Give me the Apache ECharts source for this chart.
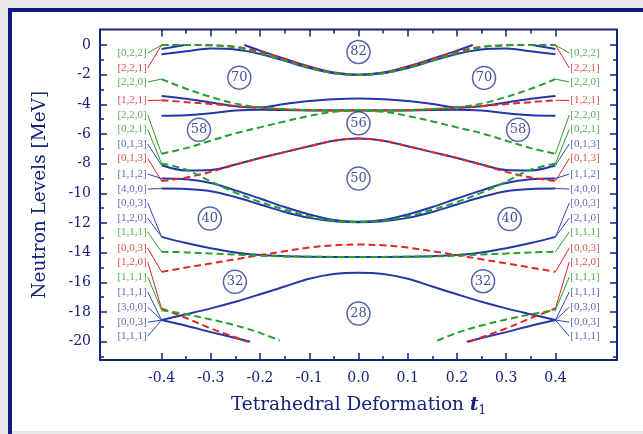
<!DOCTYPE html>
<html><head><meta charset="utf-8">
<script src="https://cdn.jsdelivr.net/npm/echarts@6/dist/echarts.min.js"></script>
<style>html,body{margin:0;padding:0;background:#e8e8ea}#c{width:643px;height:434px}</style>
</head><body><div id="c"></div>
<script>
// ---- data ----
const T = [-0.4,-0.35,-0.3,-0.25,-0.2,-0.15,-0.1,-0.05,0,0.05,0.1,0.15,0.2,0.25,0.3,0.35,0.4];

// blue (solid) levels
const blueSegA_L = [[-0.4,-0.27],[-0.353,0]];
const blueSegA_R = [[0.353,0],[0.4,-0.27]];
const blueSegB = [[-0.232,0],[-0.2,-0.38],[-0.15,-0.93],[-0.1,-1.45],[-0.05,-1.86],[0,-2.0],[0.05,-1.86],[0.1,-1.45],[0.15,-0.93],[0.2,-0.38],[0.232,0]];
const blueHump = [-0.63,-0.42,-0.24,-0.3,-0.6,-1.07,-1.55,-1.9,-2.02,-1.9,-1.55,-1.07,-0.6,-0.3,-0.24,-0.42,-0.63];
const blueTrough = [-3.44,-3.63,-3.88,-4.12,-4.2,-3.97,-3.78,-3.65,-3.6,-3.65,-3.78,-3.97,-4.2,-4.12,-3.88,-3.63,-3.44];
const blueFlat = [-4.77,-4.73,-4.6,-4.42,-4.36,-4.38,-4.41,-4.42,-4.42,-4.42,-4.41,-4.38,-4.36,-4.42,-4.6,-4.73,-4.77];
const blue013 = [-8.1,-8.45,-8.42,-8.05,-7.62,-7.22,-6.82,-6.45,-6.3,-6.45,-6.82,-7.22,-7.62,-8.05,-8.42,-8.45,-8.1];
const blue112 = [-9.0,-9.05,-9.3,-9.8,-10.35,-10.92,-11.42,-11.8,-11.92,-11.8,-11.42,-10.92,-10.35,-9.8,-9.3,-9.05,-9.0];
const blue400 = [-9.67,-9.7,-9.85,-10.25,-10.75,-11.25,-11.65,-11.88,-11.95,-11.88,-11.65,-11.25,-10.75,-10.25,-9.85,-9.7,-9.67];
const blue003 = [-12.93,-13.35,-13.7,-13.98,-14.15,-14.23,-14.27,-14.28,-14.28,-14.28,-14.27,-14.23,-14.15,-13.98,-13.7,-13.35,-12.93];
const blueRise = [-18.54,-18.15,-17.75,-17.3,-16.8,-16.28,-15.75,-15.43,-15.35,-15.43,-15.75,-16.28,-16.8,-17.3,-17.75,-18.15,-18.54];
const blueFall_L = [[-0.4,-18.54],[-0.35,-18.92],[-0.3,-19.35],[-0.25,-19.75],[-0.22,-20.0]];
const blueFall_R = [[0.22,-20.0],[0.25,-19.75],[0.3,-19.35],[0.35,-18.92],[0.4,-18.54]];

// red (dashed) levels
const red221 = [0,0,-0.02,-0.12,-0.45,-0.95,-1.45,-1.87,-2.0,-1.87,-1.45,-0.95,-0.45,-0.12,-0.02,0,0];
const red121 = [-3.72,-3.85,-3.98,-4.12,-4.25,-4.33,-4.38,-4.4,-4.4,-4.4,-4.38,-4.33,-4.25,-4.12,-3.98,-3.85,-3.72];
const red013 = [-9.17,-8.93,-8.55,-8.07,-7.62,-7.22,-6.82,-6.45,-6.3,-6.45,-6.82,-7.22,-7.62,-8.07,-8.55,-8.93,-9.17];
const red003 = [-15.29,-15.0,-14.72,-14.44,-14.16,-13.9,-13.65,-13.5,-13.45,-13.5,-13.65,-13.9,-14.16,-14.44,-14.72,-15.0,-15.29];
const red120_L = [[-0.4,-17.76],[-0.35,-18.4],[-0.3,-19.1],[-0.25,-19.7],[-0.225,-20.0]];
const red120_R = [[0.225,-20.0],[0.25,-19.7],[0.3,-19.1],[0.35,-18.4],[0.4,-17.76]];

// green (dashed) levels
const green022 = [0,0,-0.02,-0.15,-0.55,-1.05,-1.55,-1.9,-2.0,-1.9,-1.55,-1.05,-0.55,-0.15,-0.02,0,0];
const green220a = [-2.3,-2.95,-3.5,-3.95,-4.2,-4.32,-4.4,-4.42,-4.42,-4.42,-4.4,-4.32,-4.2,-3.95,-3.5,-2.95,-2.3];
const green220b = [-7.33,-6.95,-6.45,-5.95,-5.55,-5.15,-4.78,-4.5,-4.42,-4.5,-4.78,-5.15,-5.55,-5.95,-6.45,-6.95,-7.33];
const green021 = [-7.98,-8.4,-9.2,-9.95,-10.58,-11.1,-11.55,-11.85,-11.93,-11.85,-11.55,-11.1,-10.58,-9.95,-9.2,-8.4,-7.98];
const green111 = [-13.93,-13.98,-14.05,-14.12,-14.2,-14.25,-14.27,-14.28,-14.28,-14.28,-14.27,-14.25,-14.2,-14.12,-14.05,-13.98,-13.93];
const green111b_L = [[-0.4,-17.87],[-0.35,-18.15],[-0.3,-18.5],[-0.25,-18.9],[-0.2,-19.4],[-0.16,-19.92]];
const green111b_R = [[0.16,-19.92],[0.2,-19.4],[0.25,-18.9],[0.3,-18.5],[0.35,-18.15],[0.4,-17.87]];

// side labels
const labelsLeft  = ['[0,2,2]','[2,2,1]','[2,2,0]','[1,2,1]','[2,2,0]','[0,2,1]','[0,1,3]','[0,1,3]','[1,1,2]','[4,0,0]','[0,0,3]','[1,2,0]','[1,1,1]','[0,0,3]','[1,2,0]','[1,1,1]','[1,1,1]','[3,0,0]','[0,0,3]','[1,1,1]'];
const labelsRight = ['[0,2,2]','[2,2,1]','[2,2,0]','[1,2,1]','[2,2,0]','[0,2,1]','[0,1,3]','[0,1,3]','[1,1,2]','[4,0,0]','[0,0,3]','[2,1,0]','[1,1,1]','[0,0,3]','[1,2,0]','[1,1,1]','[1,1,1]','[0,3,0]','[0,0,3]','[1,1,1]'];
const labelKind = ['g','r','g','r','g','g','b','r','b','b','b','b','g','r','r','g','b','b','b','b'];
const labelE = [-0.54,-1.55,-2.49,-3.74,-4.72,-5.70,-6.68,-7.65,-8.70,-9.71,-10.65,-11.67,-12.61,-13.69,-14.63,-15.64,-16.65,-17.67,-18.68,-19.63];
const levelStartE = [0,0,-2.3,-3.72,-7.33,-7.98,-8.1,-9.17,-9.0,-9.67,-12.93,-12.93,-13.93,-15.29,-17.76,-17.87,-18.54,-18.54,-18.54,-18.54];

// magic numbers (circled)
const magicText = ['82','70','70','56','58','58','50','40','40','32','32','28'];
const magicT = [0,-0.242,0.255,0,-0.324,0.324,0,-0.302,0.307,-0.251,0.253,0];
const magicE = [-0.47,-2.2,-2.22,-5.28,-5.72,-5.72,-9.0,-11.7,-11.73,-15.96,-15.92,-18.1];

// ticks
const xMajor = [-0.4,-0.3,-0.2,-0.1,0,0.1,0.2,0.3,0.4];
const xMinor = [-0.35,-0.25,-0.15,-0.05,0.05,0.15,0.25,0.35];
const yMajor = [-20,-18,-16,-14,-12,-10,-8,-6,-4,-2,0];
const yMinor = [-21,-19,-17,-15,-13,-11,-9,-7,-5,-3,-1];

// ---- chart ----
const NAVY = '#16217a';
const C = {b:'#2536a8', r:'#e02626', g:'#22a02c'};
const TC = {b:'#3345aa', r:'#d82626', g:'#2a9a30'};
const SERIF = 'DejaVu Serif';

const full = v => v.map((e,i)=>[T[i],e]);
function lineS(data, kind){
  const dashed = kind !== 'b';
  return {type:'line', data, symbol:'none', smooth:0.35, silent:true, z: dashed ? 4 : 3,
    lineStyle:{color:C[kind], width:2, type: dashed ? [7,4] : 'solid'}};
}
const series = [];
[blueSegA_L, blueSegA_R, blueSegB, full(blueHump), full(blueTrough), full(blueFlat), full(blue013),
 full(blue112), full(blue400), full(blue003), full(blueRise), blueFall_L, blueFall_R].forEach(d=>series.push(lineS(d,'b')));
[full(red221), full(red121), full(red013), full(red003), red120_L, red120_R].forEach(d=>series.push(lineS(d,'r')));
[full(green022), full(green220a), full(green220b), full(green021), full(green111), green111b_L, green111b_R].forEach(d=>series.push(lineS(d,'g')));

// connectors
const conn = [];
labelE.forEach((e,i)=>{
  conn.push({coords:[[-0.428,e],[-0.4,levelStartE[i]]], lineStyle:{color:TC[labelKind[i]]}});
  conn.push({coords:[[0.428,e],[0.4,levelStartE[i]]], lineStyle:{color:TC[labelKind[i]]}});
});
series.push({type:'lines', coordinateSystem:'cartesian2d', data:conn, silent:true, z:2,
  lineStyle:{width:1, opacity:1}});

const lblFont = {fontFamily:'Liberation Serif', fontSize:11};
series.push({type:'scatter', symbolSize:0, silent:true, z:5,
  data: labelsLeft.map((s,i)=>({value:[-0.428,labelE[i]], name:s, label:{color:TC[labelKind[i]]}})),
  label:Object.assign({show:true, position:'left', distance:1, formatter:'{b}'}, lblFont)});
series.push({type:'scatter', symbolSize:0, silent:true, z:5,
  data: labelsRight.map((s,i)=>({value:[0.428,labelE[i]], name:s, label:{color:TC[labelKind[i]]}})),
  label:Object.assign({show:true, position:'right', distance:1, formatter:'{b}'}, lblFont)});

series.push({type:'scatter', symbol:'circle', symbolSize:23, silent:true, z:6,
  data: magicText.map((s,i)=>({value:[magicT[i],magicE[i]], name:s})),
  itemStyle:{color:'#fff', borderColor:'#2a3a92', borderWidth:1.5},
  label:{show:true, position:'inside', formatter:'{b}', color:NAVY, fontFamily:SERIF, fontSize:13}});

const XMIN=-0.525, XMAX=0.525, YMIN=-21.23, YMAX=1.045;
const tickStyle = {color:NAVY, width:1.5};
function xAx(pos, vals, len, withLabel){
  const a = {type:'value', position:pos, min:XMIN, max:XMAX, splitLine:{show:false}, axisLine:{show:false, onZero:false},
    axisTick:{inside:true, length:len, lineStyle:tickStyle, customValues:vals},
    axisLabel:{show:false}};
  if (withLabel){
    a.axisLabel = {show:true, customValues:vals, formatter:v=>v.toFixed(1), margin:11, color:NAVY, fontFamily:SERIF, fontSize:14};
    a.name = 'Tetrahedral Deformation {t|t}{s|1}';
    a.nameLocation = 'middle'; a.nameGap = 33;
    a.nameTextStyle = {color:NAVY, fontFamily:SERIF, fontSize:18.5, lineHeight:24,
      rich:{t:{fontFamily:SERIF, fontStyle:'italic', fontWeight:'bold', fontSize:18.5, color:NAVY, lineHeight:24},
            s:{fontFamily:SERIF, fontSize:12, color:NAVY, lineHeight:16, verticalAlign:'bottom'}}};
  }
  return a;
}
function yAx(pos, vals, len, withLabel){
  const a = {type:'value', position:pos, min:YMIN, max:YMAX, splitLine:{show:false}, axisLine:{show:false, onZero:false},
    axisTick:{inside:true, length:len, lineStyle:tickStyle, customValues:vals},
    axisLabel:{show:false}};
  if (withLabel){
    a.axisLabel = {show:true, customValues:vals, formatter:v=>String(v), margin:9, color:NAVY, fontFamily:SERIF, fontSize:14};
    a.name = 'Neutron Levels [MeV]';
    a.nameLocation = 'middle'; a.nameGap = 50;
    a.nameTextStyle = {color:NAVY, fontFamily:SERIF, fontSize:18.5};
  }
  return a;
}

const chart = echarts.init(document.getElementById('c'), null, {renderer:'canvas'});
chart.setOption({
  animation:false,
  backgroundColor:'#e8e8ea',
  graphic:[
    {type:'rect', shape:{x:12,y:12,width:640,height:419}, style:{fill:'#ffffff'}, z:-100, silent:true},
    {type:'rect', shape:{x:8,y:8,width:4,height:426}, style:{fill:'#101c80'}, z:-99, silent:true},
    {type:'rect', shape:{x:8,y:8,width:640,height:4}, style:{fill:'#101c80'}, z:-99, silent:true}
  ],
  grid:{left:100, right:26, top:29.5, bottom:74, show:true, borderColor:NAVY, borderWidth:2, backgroundColor:'transparent'},
  xAxis:[xAx('bottom',xMajor,7,true), xAx('bottom',xMinor,4,false), xAx('top',xMajor,7,false), xAx('top',xMinor,4,false)],
  yAxis:[yAx('left',yMajor,7,true), yAx('left',yMinor,4,false), yAx('right',yMajor,7,false), yAx('right',yMinor,4,false)],
  series: series
});
</script></body></html>
